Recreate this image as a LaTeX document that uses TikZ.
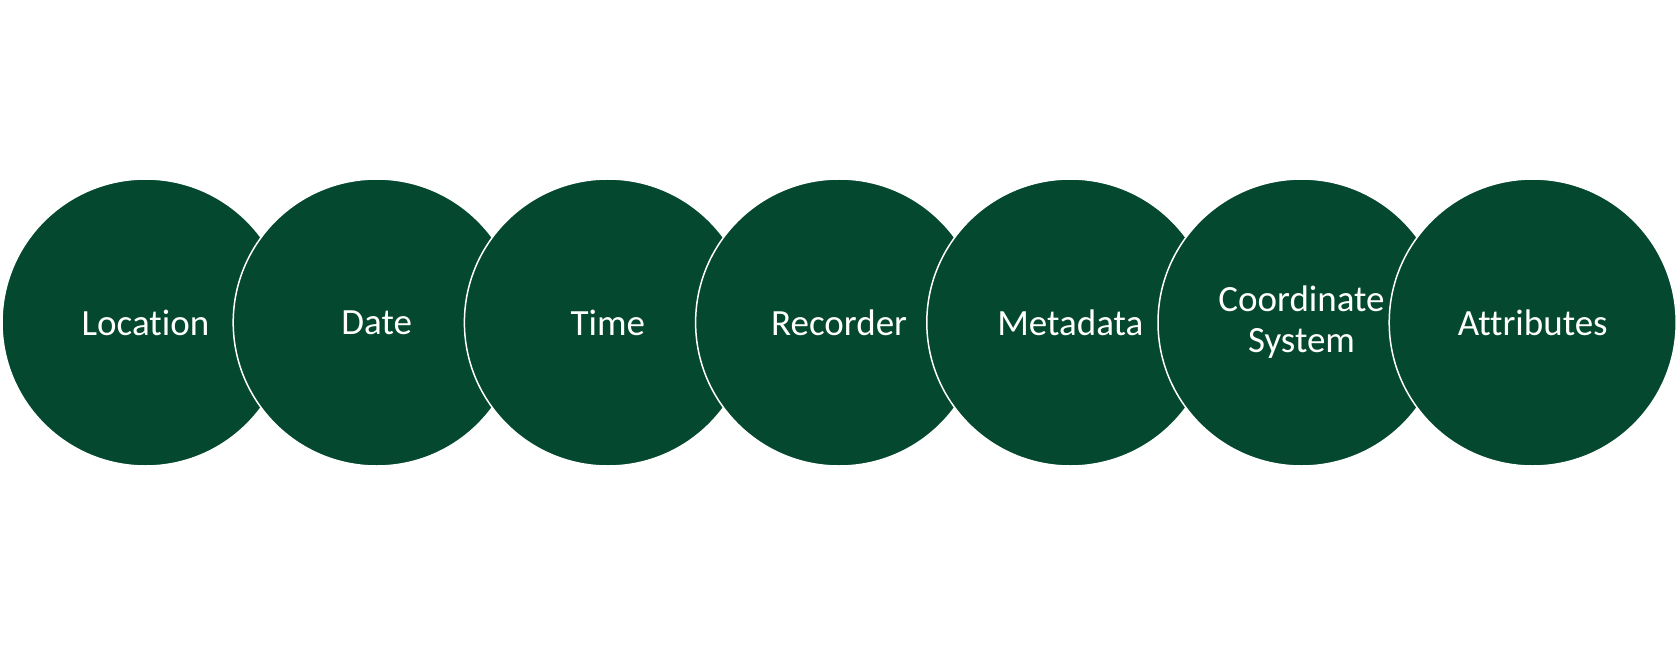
\documentclass[tikz,border=0pt]{standalone}
\usepackage{fontspec}
\setmainfont[Ligatures=NoCommon]{Carlito}
\definecolor{circgreen}{RGB}{3,72,47}
\begin{document}
\begin{tikzpicture}[x=1bp,y=-1bp,
  disc/.style={circle,fill=circgreen,draw=white,line width=1.5bp,minimum size=287bp,inner sep=0pt,
    text=white,font=\fontsize{37bp}{41bp}\selectfont,align=center}]
\useasboundingbox[fill=white] (0,0) rectangle (1680,646);
\node[disc] (c1) at (145.5,322.5) {Location};
\node[disc] (c2) at (376.7,322.5) {Date};
\node[disc] (c3) at (607.9,322.5) {Time};
\node[disc] (c4) at (839.1,322.5) {Recorder};
\node[disc] (c5) at (1070.3,322.5) {Metadata};
\node[disc] (c6) at (1301.5,322.5) {Coordinate\\System};
\node[disc] (c7) at (1532.7,322.5) {Attributes};
\end{tikzpicture}
\end{document}
